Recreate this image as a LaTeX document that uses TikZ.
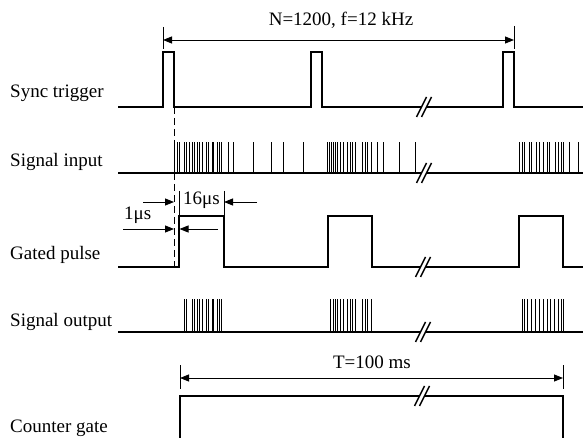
\documentclass[tikz,border=0pt]{standalone}
\usepackage{fontspec}
\setmainfont{Liberation Serif}
\usetikzlibrary{arrows.meta}
\begin{document}
\begin{tikzpicture}[x=1pt,y=-1pt,
  wave/.style={line width=1.8pt, line join=miter},
  spike/.style={line width=0.8pt},
  dim/.style={line width=0.9pt},
  tip/.tip={Triangle[length=9pt,width=7pt]},
  dimarrow/.style={dim, -tip},
  dimboth/.style={dim, tip-tip},
  lbl/.style={font=\fontsize{19}{22}\selectfont, inner sep=0pt, anchor=base west},
  ann/.style={font=\fontsize{19}{22}\selectfont, inner sep=0pt},
  brk/.pic={\fill[white] (-7.5,10) -- (2.5,-10) -- (7.5,-10) -- (-2.5,10) -- cycle;
            \draw[line width=1.4pt] (-7.5,10) -- (2.5,-10) (-2.5,10) -- (7.5,-10);}]
\useasboundingbox (0,0) rectangle (583,438);

% labels
\node[lbl] (lsync) at (10,98) {Sync trigger};
\node[lbl] (lin) at (10,167) {Signal input};
\node[lbl] (lgate) at (10,259) {Gated pulse};
\node[lbl] (lout) at (10,326) {Signal output};
\node[lbl] (lcnt) at (10,432) {Counter gate};

% sync trigger
\draw[wave] (118,107) -| (163,52) -| (174,107) -| (311,52) -| (322,107) -| (503,52) -| (514,107) -- (583,107);
\pic at (424,107) {brk};

% N arrow
\coordinate (nL) at (163,40);
\coordinate (nR) at (514,40);
\draw[dim] (163,27) -- (163,49);
\draw[dim] (514,26) -- (514,49);
\draw[dimboth] (nL) -- (nR);
\node[ann] (ntxt) at (341,20) {N=1200, f=12 kHz};

% dashed reference
\draw[dim, dash pattern=on 7pt off 4pt] (174,107) -- (174,268);

% signal input
\draw[wave] (118,173) -- (583,173);
\foreach \x in {174,177,179.5,184,186,189,192,194,197,199,202,206,208,212,213.5,217,219,221,228,233,253,271,283,303,327,329,331,333,335,337,340,343,347,350,352,355,362,365,367,371,377,383,399,415,
519.5,522,524.5,529,531,536,539,543.5,547,549,555,558,561,563,569.5,578.5}
  \draw[spike] (\x,173) -- (\x,142);
\pic at (424,173) {brk};

% gated pulse
\draw[wave] (118,267) -| (179,216) -| (224,267) -| (328,216) -| (372,267) -| (519,216) -| (563,267) -- (583,267);
\pic at (423,267) {brk};

% 16 us
\draw[dim] (179,191) -- (179,216);
\draw[dim] (224,191) -- (224,216);
\draw[dimarrow] (143,202) -- (174,202);
\draw[dimarrow] (257,202) -- (224,202);
\node[ann] (t16) at (201.5,200) {16μs};

% 1 us
\draw[dimarrow] (123,229) -- (174,229);
\draw[dimarrow] (218,229) -- (179.5,229);
\node[lbl] (t1) at (124,220) {1μs};

% signal output
\draw[wave] (118,332) -- (583,332);
\foreach \x in {184,186,192,194,197,199,202,206,208,212,213.5,217,219,221,
330,333,335,337,340,343,347,350,352,355,362,365,367,371,
522,524.5,527,531.5,535,539,543.5,547,550,554,558,561,563}
  \draw[spike] (\x,332) -- (\x,299);
\pic at (423,332) {brk};

% counter gate
\draw[wave] (180,438) -- (180,396) -- (563,396) -- (563,438);
\pic at (422,396) {brk};
\draw[dim] (180,365) -- (180,389);
\draw[dim] (563,365) -- (563,389);
\coordinate (tL) at (180,378);
\coordinate (tR) at (563,378);
\draw[dimboth] (tL) -- (tR);
\node[ann] (ttxt) at (372,362) {T=100 ms};
\end{tikzpicture}
\end{document}
